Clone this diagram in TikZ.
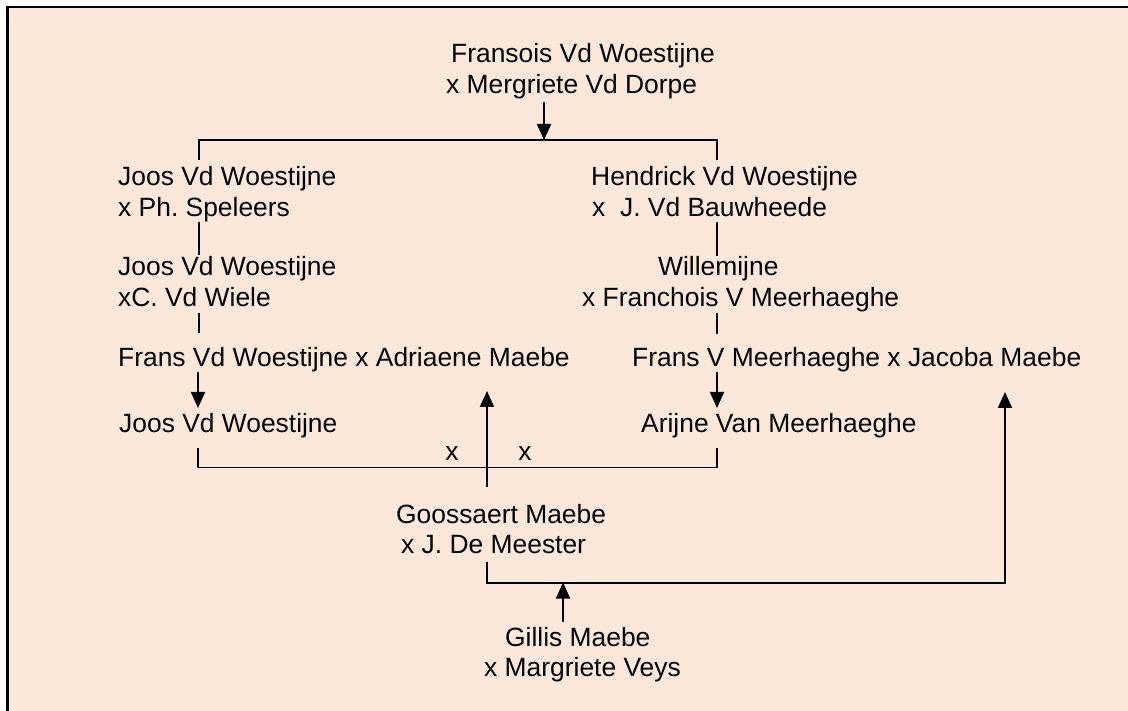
\documentclass[tikz,border=0pt]{standalone}
\usepackage{fontspec}
\setmainfont{Liberation Sans}
\usetikzlibrary{arrows.meta}
\definecolor{peach}{HTML}{FCE8DA}
\frenchspacing
\begin{document}
\begin{tikzpicture}[x=1pt,y=-1pt,
  lbl/.style={anchor=base west, inner sep=0pt, font=\fontsize{26.4pt}{31pt}\selectfont\frenchspacing},
  xlbl/.style={anchor=base, inner sep=0pt, font=\fontsize{26.4pt}{31pt}\selectfont},
  conn/.style={line width=1.4pt},
  brk/.style={line width=1.7pt},
  arr/.style={line width=2pt,-{Triangle[length=16pt,width=14pt]}}]
\useasboundingbox (0,0) rectangle (1128,711);
\fill[white] (0,0) rectangle (1128,711);
\fill[peach] (7.5,7) rectangle (1128,711);
\draw[line width=2.5pt] (7.5,711) -- (7.5,7) -- (1128,7);

% texts
\node[lbl] (fv1) at (451,62.5) {Fransois Vd Woestijne};
\node[lbl] (fv2) at (446,93.5) {x Mergriete Vd Dorpe};
\node[lbl] (jo1a) at (118,185.5) {Joos Vd Woestijne};
\node[lbl] (jo1b) at (118,216.5) {x Ph. Speleers};
\node[lbl] (he1a) at (591,185.5) {Hendrick Vd Woestijne};
\node[lbl] (he1b) at (592,216.5) {x\ \ J. Vd Bauwheede};
\node[lbl] (jo2a) at (118,276) {Joos Vd Woestijne};
\node[lbl] (jo2b) at (118,307) {xC. Vd Wiele};
\node[lbl] (wi2a) at (658,276) {Willemijne};
\node[lbl] (wi2b) at (582,307) {x Franchois V Meerhaeghe};
\node[lbl] (fr3a) at (118,367) {Frans Vd Woestijne x Adriaene Maebe};
\node[lbl] (fr3b) at (632,367) {Frans V Meerhaeghe x Jacoba Maebe};
\node[lbl] (jo4) at (119,432) {Joos Vd Woestijne};
\node[lbl] (ar4) at (641,432) {Arijne Van Meerhaeghe};
\node[xlbl] (xl) at (452,460.5) {x};
\node[xlbl] (xr) at (525,460.5) {x};
\node[lbl] (go1) at (396,523) {Goossaert Maebe};
\node[lbl] (go2) at (401,553.5) {x J. De Meester};
\node[lbl] (gi1) at (505,646) {Gillis Maebe};
\node[lbl] (gi2) at (484,676) {x Margriete Veys};

% coordinates
\coordinate (a0s) at (544,102);
\coordinate (a0t) at (544,140);
\coordinate (tbL) at (199,140);
\coordinate (tbR) at (717,140);
\coordinate (tbLd) at (199,160);
\coordinate (tbRd) at (717,160);
\coordinate (l1s) at (199,222);
\coordinate (l1e) at (199,255);
\coordinate (r1s) at (717,222);
\coordinate (r1e) at (717,256);
\coordinate (l2s) at (199,313);
\coordinate (l2e) at (199,333);
\coordinate (r2s) at (717,313);
\coordinate (r2e) at (717,334);
\coordinate (l3s) at (198,372);
\coordinate (l3e) at (198,408);
\coordinate (r3s) at (717,372);
\coordinate (r3e) at (717,408);
\coordinate (bbL) at (198,448);
\coordinate (bbLb) at (198,467.5);
\coordinate (bbR) at (717,448);
\coordinate (bbRb) at (717,467.5);
\coordinate (ua_s) at (487,487);
\coordinate (ua_t) at (487,391);
\coordinate (gL) at (487,562);
\coordinate (gLb) at (487,582.5);
\coordinate (gRb) at (1005,582.5);
\coordinate (gRt) at (1005,392);
\coordinate (gis) at (563,621.5);
\coordinate (git) at (563,582.5);

% connectors
\draw[arr] (a0s) -- (a0t);
\draw[brk] (tbLd) -- (tbL) -- (tbR) -- (tbRd);
\draw[conn] (l1s) -- (l1e);
\draw[conn] (r1s) -- (r1e);
\draw[conn] (l2s) -- (l2e);
\draw[conn] (r2s) -- (r2e);
\draw[arr] (l3s) -- (l3e);
\draw[arr] (r3s) -- (r3e);
\draw[brk] (bbL) -- (bbLb) -- (bbRb) -- (bbR);
\draw[arr] (ua_s) -- (ua_t);
\draw[arr] (gL) -- (gLb) -- (gRb) -- (gRt);
\draw[arr] (gis) -- (git);
\end{tikzpicture}
\end{document}
